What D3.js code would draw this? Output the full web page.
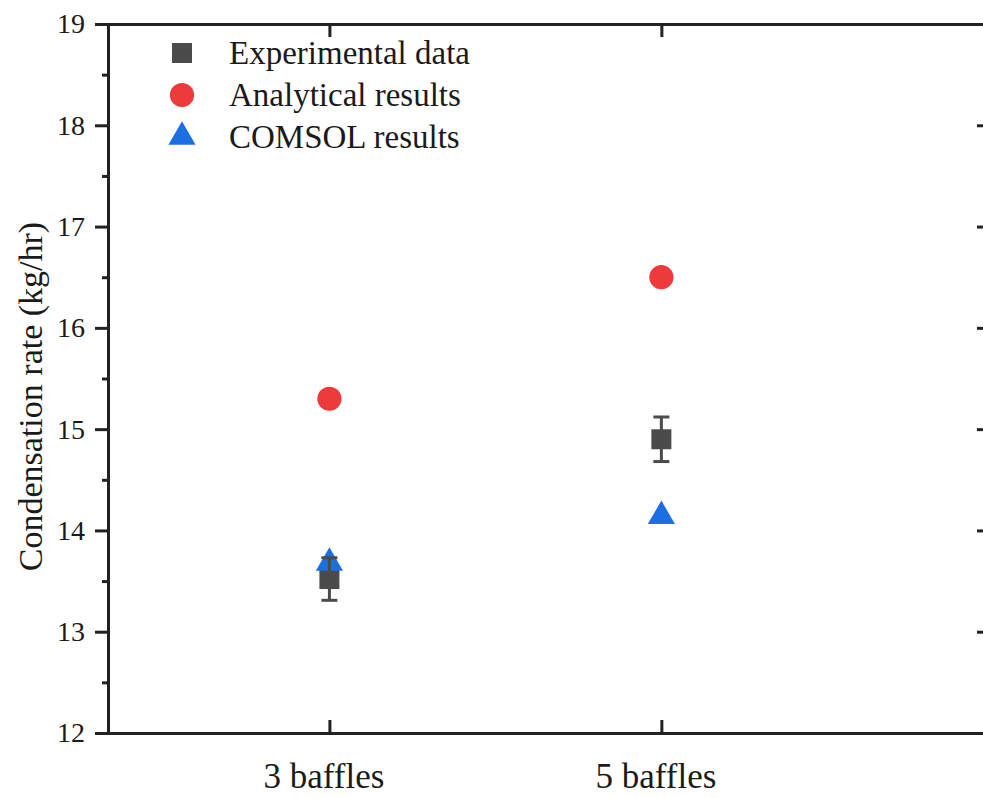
<!DOCTYPE html>
<html>
<head>
<meta charset="utf-8">
<script src="https://cdn.jsdelivr.net/npm/d3@7"></script>
<style>
  body { margin: 0; background: #fff; }
</style>
</head>
<body>
<div id="chart"></div>
<script>
// values
const categories = ["3 baffles", "5 baffles"];
const experimental = [13.52, 14.9];
const experimentalErr = [0.21, 0.22];
const analytical = [15.3, 16.5];
const comsol = [13.68, 14.14];
const yMajorTicks = [12, 13, 14, 15, 16, 17, 18, 19];
const yMinorTicks = [12.5, 13.5, 14.5, 15.5, 16.5, 17.5, 18.5];
const legendLabels = ["Experimental data", "Analytical results", "COMSOL results"];

const width = 983, height = 798;
const margin = { left: 108, top: 24, right: 990, bottom: 733 };
const serif = "'Liberation Serif', 'Times New Roman', Tinos, 'DejaVu Serif', serif";

const svg = d3.select("#chart").append("svg")
    .attr("width", width)
    .attr("height", height);

// category i sits at position i + 1
const x = d3.scaleLinear().domain([0.333, 2.99]).range([margin.left, margin.right]);
const y = d3.scaleLinear().domain([12, 19]).range([margin.bottom, margin.top]);

const axisColor = "#222";
const colors = { exp: "#4b4b4b", ana: "#ef3a3c", com: "#1b6fe0" };

// left axis, ticks outside
const leftAxis = svg.append("g")
    .attr("transform", `translate(${margin.left},0)`)
    .call(d3.axisLeft(y).tickValues(yMajorTicks).tickSize(13).tickPadding(10).tickFormat(d3.format("d")));
leftAxis.append("g")
    .call(d3.axisLeft(y).tickValues(yMinorTicks).tickSize(6).tickFormat(""));

// right axis, ticks inside
const rightAxis = svg.append("g")
    .attr("transform", `translate(${margin.right},0)`)
    .call(d3.axisRight(y).tickValues(yMajorTicks).tickSize(-13).tickFormat(""));
rightAxis.append("g")
    .call(d3.axisRight(y).tickValues(yMinorTicks).tickSize(-6).tickFormat(""));

// bottom axis, ticks inside
const bottomAxis = svg.append("g")
    .attr("transform", `translate(0,${margin.bottom})`)
    .call(d3.axisBottom(x).tickValues([1, 2]).tickSize(-13).tickPadding(30)
        .tickFormat(d => categories[d - 1]));

// top axis, ticks inside
const topAxis = svg.append("g")
    .attr("transform", `translate(0,${margin.top})`)
    .call(d3.axisTop(x).tickValues([1, 2]).tickSize(-13).tickFormat(""));

svg.selectAll(".domain").attr("stroke", axisColor).attr("stroke-width", 3);
svg.selectAll(".tick line").attr("stroke", axisColor).attr("stroke-width", 3);
svg.selectAll(".tick text").attr("fill", "#1a1a1a").style("font-family", serif);
leftAxis.selectAll(".tick text").style("font-size", "28px");
bottomAxis.selectAll(".tick text").style("font-size", "35px").attr("dx", -6);

// y axis title
svg.append("text")
    .attr("transform", `translate(42,${(margin.top + margin.bottom) / 2 + 18}) rotate(-90)`)
    .attr("text-anchor", "middle")
    .attr("fill", "#1a1a1a")
    .style("font-family", serif)
    .style("font-size", "34px")
    .text("Condensation rate (kg/hr)");

const square = d3.symbol().type(d3.symbolSquare).size(400);
const circle = d3.symbol().type(d3.symbolCircle).size(460);
const triangle = d3.symbol().type(d3.symbolTriangle).size(320);

// experimental squares
svg.selectAll(".exp")
    .data(experimental)
    .enter()
    .append("path")
    .attr("class", "exp")
    .attr("d", square)
    .attr("transform", (d, i) => `translate(${x(i + 1)},${y(d)})`)
    .attr("fill", colors.exp);

// analytical circles
svg.selectAll(".ana")
    .data(analytical)
    .enter()
    .append("path")
    .attr("class", "ana")
    .attr("d", circle)
    .attr("transform", (d, i) => `translate(${x(i + 1)},${y(d)})`)
    .attr("fill", colors.ana);

// comsol triangles
svg.selectAll(".com")
    .data(comsol)
    .enter()
    .append("path")
    .attr("class", "com")
    .attr("d", triangle)
    .attr("transform", (d, i) => `translate(${x(i + 1)},${y(d)})`)
    .attr("fill", colors.com);

// error bars on experimental data
const err = svg.selectAll(".err")
    .data(experimental)
    .enter()
    .append("g")
    .attr("class", "err")
    .attr("stroke", colors.exp)
    .attr("stroke-width", 3);
err.append("line")
    .attr("x1", (d, i) => x(i + 1)).attr("x2", (d, i) => x(i + 1))
    .attr("y1", (d, i) => y(d + experimentalErr[i]))
    .attr("y2", (d, i) => y(d - experimentalErr[i]));
err.append("line")
    .attr("x1", (d, i) => x(i + 1) - 8).attr("x2", (d, i) => x(i + 1) + 8)
    .attr("y1", (d, i) => y(d + experimentalErr[i]))
    .attr("y2", (d, i) => y(d + experimentalErr[i]));
err.append("line")
    .attr("x1", (d, i) => x(i + 1) - 8).attr("x2", (d, i) => x(i + 1) + 8)
    .attr("y1", (d, i) => y(d - experimentalErr[i]))
    .attr("y2", (d, i) => y(d - experimentalErr[i]));

// legend
const legendShapes = [
    { sym: square, color: colors.exp },
    { sym: circle, color: colors.ana },
    { sym: triangle, color: colors.com }
];
const legend = svg.append("g").attr("transform", "translate(182,53)");
const rows = legend.selectAll("g")
    .data(legendLabels)
    .enter()
    .append("g")
    .attr("transform", (d, i) => `translate(0,${i * 42})`);
rows.append("path")
    .attr("d", (d, i) => legendShapes[i].sym())
    .attr("fill", (d, i) => legendShapes[i].color);
rows.append("text")
    .attr("x", 47)
    .attr("y", 11)
    .attr("fill", "#1a1a1a")
    .style("font-family", serif)
    .style("font-size", "33px")
    .text(d => d);
</script>
</body>
</html>
